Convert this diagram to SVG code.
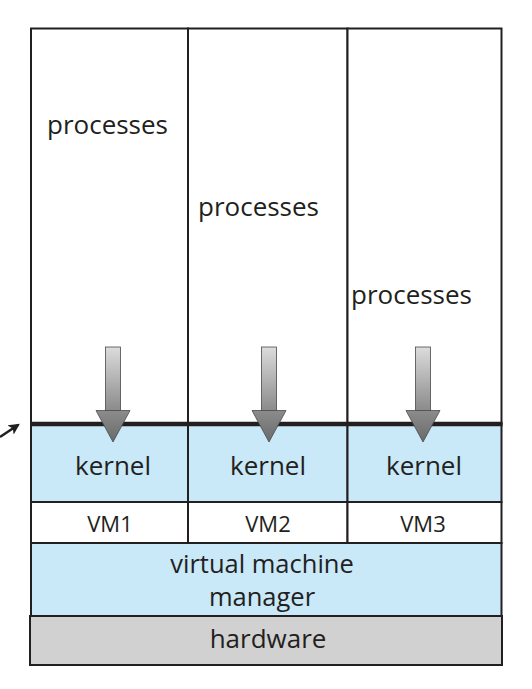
<svg xmlns="http://www.w3.org/2000/svg" width="532" height="689" viewBox="0 0 532 689">
<defs>
<linearGradient id="shaftG" x1="0" y1="0" x2="0" y2="1">
<stop offset="0" stop-color="#dcdcdc"/>
<stop offset="1" stop-color="#8a8a8a"/>
</linearGradient>
<linearGradient id="headG" x1="0" y1="0" x2="0" y2="1">
<stop offset="0" stop-color="#8c8c8c"/>
<stop offset="1" stop-color="#6a6a6a"/>
</linearGradient>
<marker id="sm" viewBox="0 0 10 10" refX="8" refY="5" markerWidth="4.5" markerHeight="4.5" orient="auto">
<path d="M0,0 L10,5 L0,10 L2.5,5 Z" fill="#231f20"/>
</marker>
</defs>
<style>
text{font-family:"Open Sans","Noto Sans",sans-serif;fill:#231f20}
.t{font-size:26px}
.v{font-size:22px}
.m{font-size:25.5px}
.box{stroke:#231f20;stroke-width:2}
.blue{fill:#c9e8f8}
.white{fill:#ffffff}
.gray{fill:#d1d1d1}
.shaft{fill:url(#shaftG);stroke:#4a4a4a;stroke-width:0.8}
.head{fill:url(#headG);stroke:#4a4a4a;stroke-width:0.8}
</style>
<rect width="532" height="689" fill="#ffffff"/>
<g id="vm1-processes">
<rect class="box white" x="31" y="28.5" width="157" height="395"/>
<text class="t" x="47" y="134">processes</text>
</g>
<g id="vm2-processes">
<rect class="box white" x="188" y="28.5" width="159.5" height="395"/>
<text class="t" x="198" y="216">processes</text>
</g>
<g id="vm3-processes">
<rect class="box white" x="347.5" y="28.5" width="154" height="395"/>
<text class="t" x="351" y="304">processes</text>
</g>
<g id="vm1-kernel">
<rect class="box blue" x="31" y="424" width="157" height="78"/>
<text class="t" x="113" y="475" text-anchor="middle">kernel</text>
</g>
<g id="vm2-kernel">
<rect class="box blue" x="188" y="424" width="159.5" height="78"/>
<text class="t" x="268" y="475" text-anchor="middle">kernel</text>
</g>
<g id="vm3-kernel">
<rect class="box blue" x="347.5" y="424" width="154" height="78"/>
<text class="t" x="424" y="475" text-anchor="middle">kernel</text>
</g>
<g id="vm1-label">
<rect class="box white" x="31" y="502" width="157" height="41"/>
<text class="v" x="110" y="532" text-anchor="middle">VM1</text>
</g>
<g id="vm2-label">
<rect class="box white" x="188" y="502" width="159.5" height="41"/>
<text class="v" x="268" y="532" text-anchor="middle">VM2</text>
</g>
<g id="vm3-label">
<rect class="box white" x="347.5" y="502" width="154" height="41"/>
<text class="v" x="423" y="532" text-anchor="middle">VM3</text>
</g>
<g id="vmm">
<rect class="box blue" x="31" y="543" width="470.5" height="73"/>
<text class="m" x="262" y="573" text-anchor="middle">virtual machine</text>
<text class="m" x="262" y="606" text-anchor="middle">manager</text>
</g>
<g id="hardware">
<rect class="box gray" x="30" y="616" width="472" height="49"/>
<text class="t" x="268" y="648" text-anchor="middle">hardware</text>
</g>
<g id="connectors">
<line x1="30" y1="424" x2="502.5" y2="424" stroke="#231f20" stroke-width="4.5"/>
<rect class="shaft" x="105.5" y="347" width="15" height="64"/>
<path class="head" d="M96,410.5 L130,410.5 L113,442 Z"/>
<rect class="shaft" x="261.5" y="347" width="15" height="64"/>
<path class="head" d="M252,410.5 L286,410.5 L269,442 Z"/>
<rect class="shaft" x="415.5" y="347" width="15" height="64"/>
<path class="head" d="M406,410.5 L440,410.5 L423,442 Z"/>
<line x1="0" y1="437" x2="18" y2="425" stroke="#231f20" stroke-width="2.5" marker-end="url(#sm)"/>
</g>
</svg>
